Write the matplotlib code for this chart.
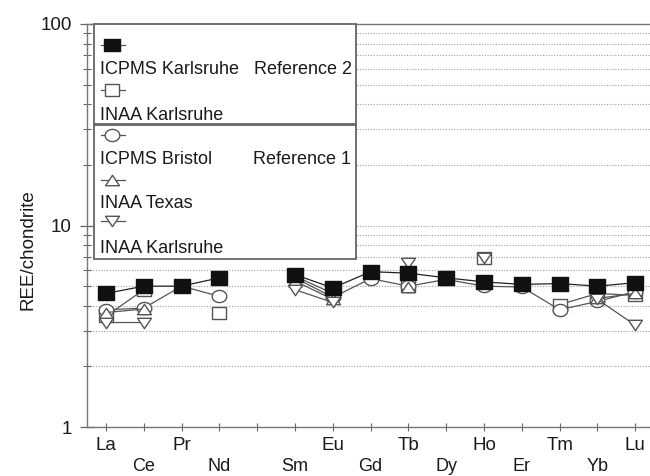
import numpy as np
import matplotlib
matplotlib.use("Agg")
import matplotlib.pyplot as plt
from matplotlib.path import Path
from matplotlib.lines import Line2D
from matplotlib.patches import Rectangle

plt.rcParams['font.family'] = ['Liberation Sans', 'DejaVu Sans']

nan = np.nan
elements = ["La", "Ce", "Pr", "Nd", "Pm", "Sm", "Eu", "Gd", "Tb", "Dy", "Ho", "Er", "Tm", "Yb", "Lu"]
upper_labels = ["La", "Pr", "Eu", "Tb", "Ho", "Tm", "Lu"]
lower_labels = ["Ce", "Nd", "", "Sm", "Gd", "Dy", "Er", "Yb"]

icpms_karlsruhe = [4.6, 5.0, 5.0, 5.5, nan, 5.7, 4.9, 5.9, 5.8, 5.5, 5.25, 5.1, 5.15, 5.0, 5.2]
inaa_karlsruhe_ref2 = [3.55, 4.8, nan, 3.68, nan, 5.6, 4.6, nan, 5.0, nan, 6.9, nan, 4.05, 4.6, 4.5]
icpms_bristol = [3.82, 3.89, 5.0, 4.45, nan, 5.5, 4.4, 5.45, 5.0, 5.4, 5.0, 4.95, 3.82, 4.2, 4.7]
inaa_texas = [3.7, 3.85, nan, nan, nan, 5.3, 4.3, nan, 4.95, nan, nan, nan, nan, 4.35, 4.6]
inaa_karlsruhe_ref1 = [3.3, 3.3, nan, nan, nan, 4.8, 4.15, nan, 6.5, nan, 6.9, nan, nan, 4.3, 3.2]

W, H = 650, 476
fig = plt.figure(figsize=(W / 100, H / 100), dpi=100)

def P(x, y):
    return (x / W, 1 - y / H)

ax = fig.add_axes([87 / W, 1 - 427 / H, (W - 87) / W, (427 - 24) / H])

# squashed marker shapes (wider than tall)
sq = Path([(-0.6, -0.5), (0.6, -0.5), (0.6, 0.5), (-0.6, 0.5), (-0.6, -0.5)],
          [Path.MOVETO, Path.LINETO, Path.LINETO, Path.LINETO, Path.CLOSEPOLY])
t = np.linspace(0, 2 * np.pi, 60)
circ = Path(np.column_stack([0.6 * np.cos(t), 0.5 * np.sin(t)]), closed=True)
tri_up = Path([(-0.6, -0.45), (0.6, -0.45), (0.0, 0.45), (-0.6, -0.45)],
              [Path.MOVETO, Path.LINETO, Path.LINETO, Path.CLOSEPOLY])
tri_dn = Path([(-0.6, 0.45), (0.6, 0.45), (0.0, -0.45), (-0.6, 0.45)],
              [Path.MOVETO, Path.LINETO, Path.LINETO, Path.CLOSEPOLY])

x = np.arange(len(elements))
grey = '#555555'
txt = '#1a1a1a'
series = [
    (inaa_karlsruhe_ref2, sq, 'white', grey, 10.5, 3),
    (icpms_bristol, circ, 'white', grey, 10.5, 4),
    (inaa_texas, tri_up, 'white', grey, 10.0, 5),
    (inaa_karlsruhe_ref1, tri_dn, 'white', grey, 10.0, 6),
    (icpms_karlsruhe, sq, '#111111', '#111111', 11.5, 7),
]
for vals, mk, fc, ec, ms, z in series:
    ax.plot(x, vals, color='#555555' if fc == 'white' else '#222222', lw=0.9,
            marker=mk, markersize=ms, markerfacecolor=fc, markeredgecolor=ec,
            markeredgewidth=1.0, zorder=z)

ax.set_yscale('log')
ax.set_ylim(1, 100)
ax.set_xlim(-0.503, 14.39)

ax.set_yticks([1, 10, 100])
ax.set_yticklabels(['1', '10', '100'])
ax.yaxis.set_minor_formatter(matplotlib.ticker.NullFormatter())
ax.tick_params(axis='y', which='major', direction='inout', length=10, width=0.9,
               color='#666666', labelsize=13.5, pad=6, labelcolor=txt)
ax.tick_params(axis='y', which='minor', direction='inout', length=6, width=0.8, color='#666666')

upper_pos = [0, 2, 6, 8, 10, 12, 14]
lower_pos = [1, 3, 4, 5, 7, 9, 11, 13]
ax.set_xticks(upper_pos)
ax.set_xticklabels(upper_labels)
ax.set_xticks(lower_pos, minor=True)
ax.set_xticklabels(lower_labels, minor=True)
ax.tick_params(axis='x', which='major', direction='inout', length=6, width=0.8,
               color='#666666', labelsize=13.5, pad=4.5, labelcolor=txt)
ax.tick_params(axis='x', which='minor', direction='inout', length=6, width=0.8,
               color='#666666', labelsize=13, pad=19.5, labelcolor=txt)

ax.yaxis.grid(True, which='both', linestyle=(0, (1, 1.5)), color='#a0a0a0', lw=0.8)
ax.set_axisbelow(True)
for s in ['left', 'bottom', 'top']:
    ax.spines[s].set_color('#777777')
    ax.spines[s].set_linewidth(1.0)
ax.spines['right'].set_visible(False)

fig.text(*P(28, 250), 'REE/chondrite', rotation=90, ha='center', va='center',
         fontsize=13.5, color=txt)

# legend boxes
for (y0, y1) in [(24, 124), (125, 259)]:
    x0, x1 = 94.3, 355.7
    fig.add_artist(Rectangle(P(x0, y1), (x1 - x0) / W, (y1 - y0) / H, transform=fig.transFigure,
                             facecolor='white', edgecolor='#666666', lw=1.3, zorder=10))

legend_items = [
    (sq, '#111111', '#111111', 11.0, 45, 'ICPMS Karlsruhe', 70),
    (sq, 'white', grey, 10.5, 90, 'INAA Karlsruhe', 115),
    (circ, 'white', grey, 10.5, 135, 'ICPMS Bristol', 160),
    (tri_up, 'white', grey, 10.0, 180, 'INAA Texas', 203),
    (tri_dn, 'white', grey, 10.0, 221, 'INAA Karlsruhe', 248),
]
for mk, fc, ec, ms, my, lab, ty in legend_items:
    xa, ya = P(101, my)
    xb, _ = P(125, my)
    fig.add_artist(Line2D([xa, xb], [ya, ya], transform=fig.transFigure,
                          color='#555555', lw=0.9, zorder=11))
    xm, _ = P(112, my)
    fig.add_artist(Line2D([xm], [ya], transform=fig.transFigure, marker=mk, markersize=ms,
                          markerfacecolor=fc, markeredgecolor=ec, markeredgewidth=1.0,
                          linestyle='none', zorder=12))
    fig.text(*P(100, ty), lab, ha='left', va='center', fontsize=13, color=txt, zorder=12)

fig.text(*P(254, 70), 'Reference 2', ha='left', va='center', fontsize=13, color=txt, zorder=12)
fig.text(*P(253, 160), 'Reference 1', ha='left', va='center', fontsize=13, color=txt, zorder=12)

fig.savefig('out.png', dpi=100)
